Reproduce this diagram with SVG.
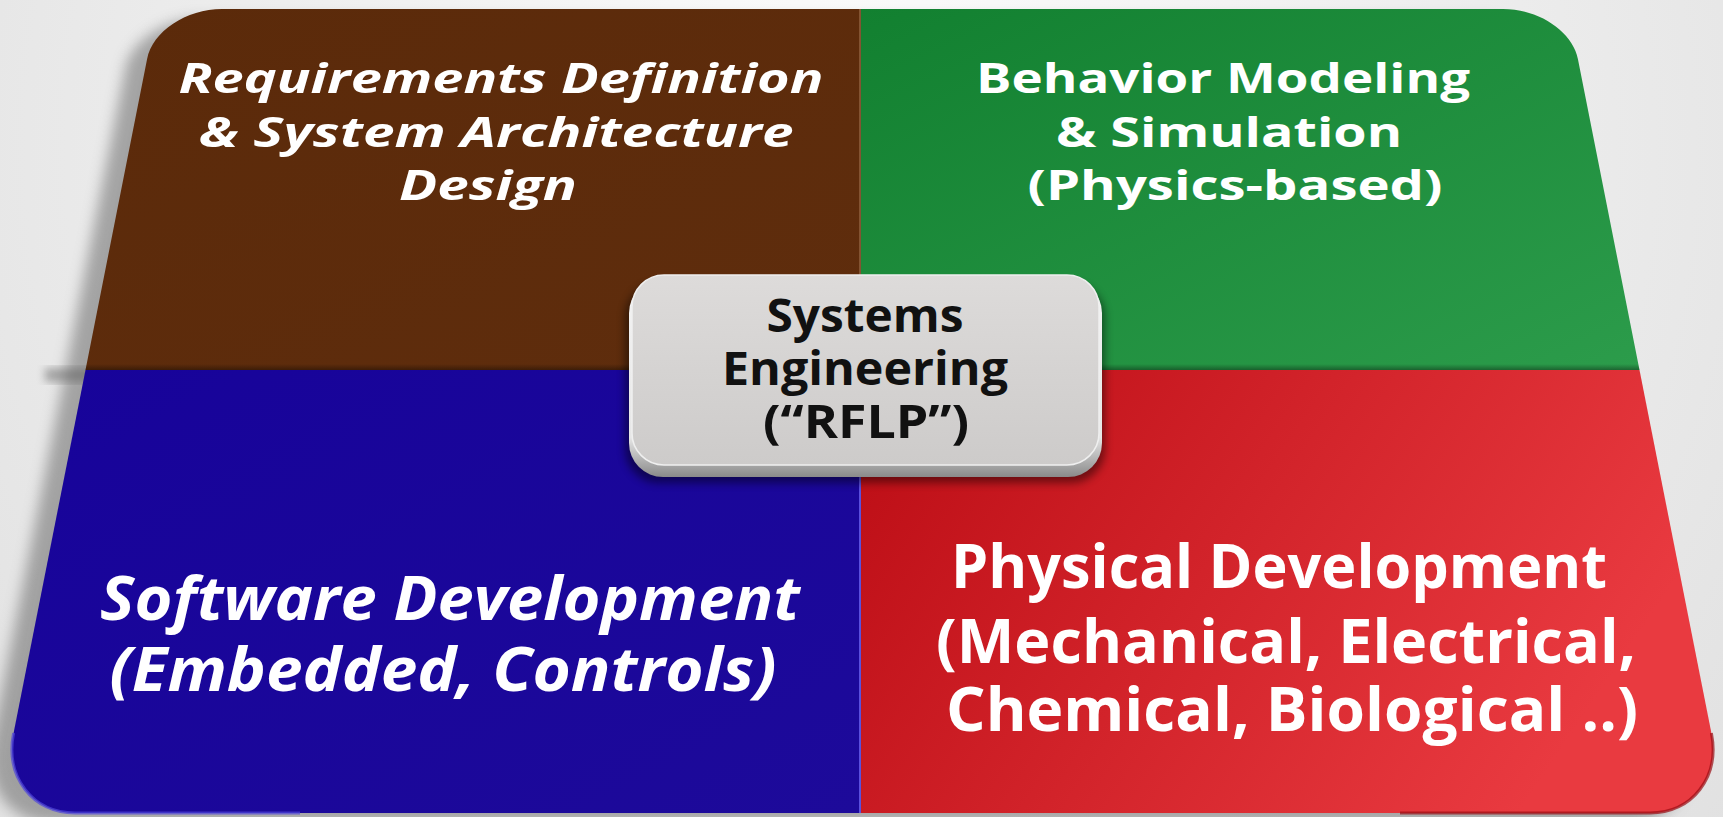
<svg xmlns="http://www.w3.org/2000/svg" width="1723" height="817" viewBox="0 0 1723 817">
<defs>
<style>
.t{font-family:"Open Sans","Liberation Sans",sans-serif;font-weight:700;text-anchor:middle;fill:#ffffff}
.i{font-style:italic}
.c{fill:#111111}
.s{font-size:42px}
.b{font-size:61px}
.m{font-size:47px}
</style>
<radialGradient id="bg" cx="860" cy="150" r="1150" gradientUnits="userSpaceOnUse">
<stop offset="0" stop-color="#fdfdfd"/><stop offset="1" stop-color="#e0e0e0"/>
</radialGradient>
<linearGradient id="gBrown" x1="0" y1="0" x2="1" y2="1">
<stop offset="0" stop-color="#5b2a0a"/><stop offset="1" stop-color="#5f2d0d"/>
</linearGradient>
<linearGradient id="gGreen" x1="0" y1="0" x2="1" y2="1">
<stop offset="0" stop-color="#128030"/><stop offset="1" stop-color="#2c9c4b"/>
</linearGradient>
<linearGradient id="gBlue" x1="0" y1="0" x2="1" y2="1">
<stop offset="0" stop-color="#17039a"/><stop offset="1" stop-color="#1d0a9a"/>
</linearGradient>
<linearGradient id="gRed" x1="0" y1="0" x2="1" y2="0.35">
<stop offset="0" stop-color="#bb0c14"/><stop offset="1" stop-color="#e93a40"/>
</linearGradient>
<linearGradient id="seam" x1="0" y1="0" x2="0" y2="1">
<stop offset="0" stop-color="#000" stop-opacity="0"/><stop offset="1" stop-color="#000" stop-opacity="0.35"/>
</linearGradient>
<linearGradient id="boxFace" x1="0" y1="0" x2="0" y2="1">
<stop offset="0" stop-color="#dddbda"/><stop offset="1" stop-color="#cdcbca"/>
</linearGradient>
<linearGradient id="boxRim" x1="0" y1="0" x2="0" y2="1">
<stop offset="0" stop-color="#f4f4f4"/><stop offset="0.8" stop-color="#e6e6e6"/><stop offset="1" stop-color="#8a8a8a"/>
</linearGradient>
<filter id="blur" x="-10%" y="-10%" width="120%" height="120%"><feGaussianBlur stdDeviation="7"/></filter>
<filter id="blur2" x="-20%" y="-20%" width="140%" height="140%"><feGaussianBlur stdDeviation="4"/></filter>
</defs>

<rect width="1723" height="817" fill="url(#bg)"/>

<g id="board-shadow">
<path d="M 222 9 L 1503 9 C 1538.8 9 1572.5 31.5 1577.9 59 L 1711.4 733 C 1720.1 777 1692.5 813 1650 813 L 75 813 C 32.5 813 4.9 777 13.6 733 L 147.1 59 C 152.5 31.5 186.3 9 222 9 Z" transform="translate(-22 10)" fill="#6a6a6a" opacity="0.55" filter="url(#blur)"/>
<rect x="45" y="368" width="50" height="14" fill="#555" opacity="0.45" filter="url(#blur2)"/>
</g>

<g id="requirements">
<path d="M 861 9 L 222 9 C 186.3 9 152.5 31.5 147.1 59 L 85.5 370 L 861 370 Z" fill="url(#gBrown)"/>
<text class="t i s" x="501" y="93" textLength="645" lengthAdjust="spacingAndGlyphs">Requirements Definition</text>
<text class="t i s" x="496" y="147" textLength="595" lengthAdjust="spacingAndGlyphs">&amp; System Architecture</text>
<text class="t i s" x="488" y="200" textLength="178" lengthAdjust="spacingAndGlyphs">Design</text>
</g>

<g id="behavior">
<path d="M 861 9 L 1503 9 C 1538.8 9 1572.5 31.5 1577.9 59 L 1639.5 370 L 861 370 Z" fill="url(#gGreen)"/>
<text class="t s" x="1223" y="93" textLength="494" lengthAdjust="spacingAndGlyphs">Behavior Modeling</text>
<text class="t s" x="1229" y="147" textLength="346" lengthAdjust="spacingAndGlyphs">&amp; Simulation</text>
<text class="t s" x="1235" y="200" textLength="415" lengthAdjust="spacingAndGlyphs">(Physics-based)</text>
</g>

<path d="M 86.7 364 L 1638.3 364 L 1639.5 370 L 85.5 370 Z" fill="url(#seam)"/>

<g id="software">
<path d="M 861 370 L 85.5 370 L 13.6 733 C 4.9 777 32.5 813 75 813 L 861 813 Z" fill="url(#gBlue)"/>
<path d="M 13.6 733 C 4.9 777 32.5 813 75 813 L 300 813" fill="none" stroke="#5046dc" stroke-width="3" opacity="0.7"/>
<text class="t i b" x="450" y="620" textLength="700" lengthAdjust="spacingAndGlyphs">Software Development</text>
<text class="t i b" x="443" y="691" textLength="667" lengthAdjust="spacingAndGlyphs">(Embedded, Controls)</text>
</g>

<g id="physical">
<path d="M 861 370 L 1639.5 370 L 1711.4 733 C 1720.1 777 1692.5 813 1650 813 L 861 813 Z" fill="url(#gRed)"/>
<path d="M 1711.4 733 C 1720.1 777 1692.5 813 1650 813 L 1400 813" fill="none" stroke="#9a0c12" stroke-width="3" opacity="0.7"/>
<text class="t b" x="1279" y="588" textLength="656" lengthAdjust="spacingAndGlyphs">Physical Development</text>
<text class="t b" x="1286" y="663" textLength="700" lengthAdjust="spacingAndGlyphs">(Mechanical, Electrical,</text>
<text class="t b" x="1292" y="731" textLength="692" lengthAdjust="spacingAndGlyphs">Chemical, Biological ..)</text>
</g>

<g id="seams">
<line x1="860" y1="9" x2="860" y2="370" stroke="#8d5d3c" stroke-width="2" opacity="0.8"/>
<line x1="860" y1="370" x2="860" y2="813" stroke="#6a62ee" stroke-width="2" opacity="0.8"/>
</g>

<g id="systems-engineering">
<rect x="625" y="283" width="480" height="200" rx="34" fill="#000" opacity="0.45" filter="url(#blur2)"/>
<rect x="629" y="279" width="473" height="198" rx="34" fill="url(#boxRim)"/>
<rect x="632" y="275" width="467" height="190" rx="32" fill="url(#boxFace)" stroke="#efefef" stroke-width="1.5"/>
<text class="t c m" x="865" y="332" textLength="197" lengthAdjust="spacingAndGlyphs">Systems</text>
<text class="t c m" x="865" y="385" textLength="286" lengthAdjust="spacingAndGlyphs">Engineering</text>
<text class="t c m" x="866" y="438" textLength="206" lengthAdjust="spacingAndGlyphs">(“RFLP”)</text>
</g>
</svg>
